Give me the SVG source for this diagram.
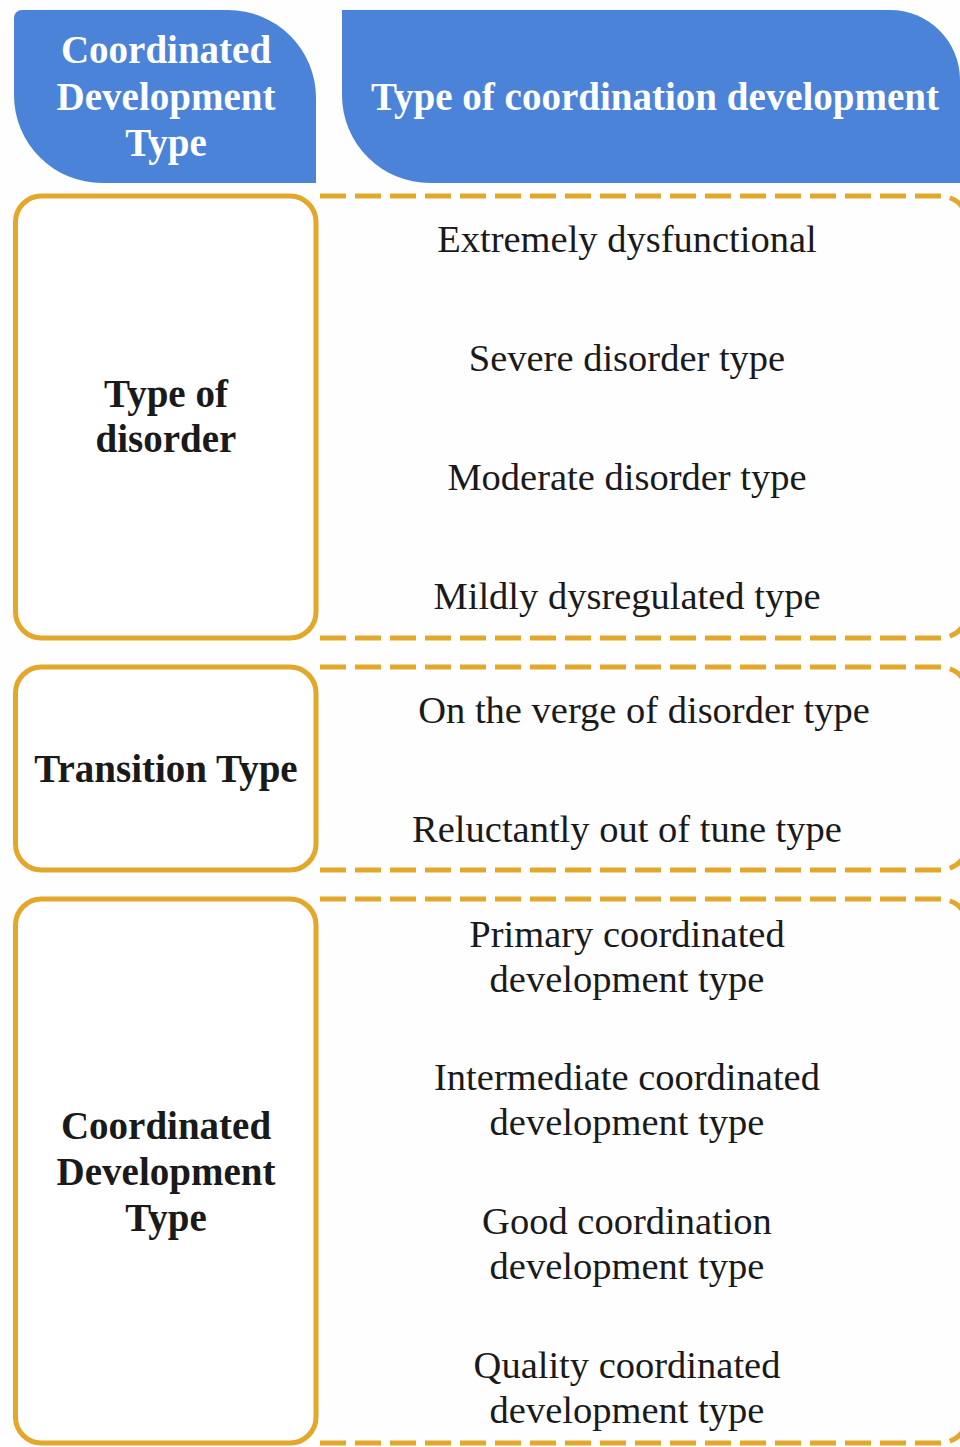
<svg xmlns="http://www.w3.org/2000/svg" width="960" height="1447" viewBox="0 0 960 1447">
<style>
.hdr{fill:#4B83D9}
.solid{fill:#FFFFFF;stroke:#E3A82B;stroke-width:5}
.dash{fill:none;stroke:#E3A82B;stroke-width:5;stroke-dasharray:26 9}
.ht{font-family:"Liberation Serif","Times New Roman",serif;font-weight:bold;font-size:39px;fill:#FFFFFF;text-anchor:middle}
.lb{font-family:"Liberation Serif","Times New Roman",serif;font-weight:bold;font-size:39px;fill:#1A1A1A;text-anchor:middle}
.it{font-family:"Liberation Serif","Times New Roman",serif;font-size:38.5px;fill:#1A1A1A;text-anchor:middle}
</style>
<rect width="960" height="1447" fill="#FEFEFE"/>
<g id="header-left">
<path class="hdr" d="M22,10 H228 A88,88 0 0 1 316,98 V183 H102 A88,88 0 0 1 14,95 V18 A8,8 0 0 1 22,10 Z"/>
<text class="ht" x="166" y="63">Coordinated</text>
<text class="ht" x="166" y="110">Development</text>
<text class="ht" x="166" y="156">Type</text>
</g>
<g id="header-right">
<path class="hdr" d="M342,10 H890 A70,70 0 0 1 960,80 V183 H430 A88,88 0 0 1 342,95 Z"/>
<text class="ht" x="655" y="110">Type of coordination development</text>
</g>
<g id="connectors">
<path class="dash" d="M320,196 H940 A28,28 0 0 1 968,224 V417"/>
<path class="dash" d="M320,638 H940 A28,28 0 0 0 968,610 V417"/>
<path class="dash" d="M320,667 H940 A28,28 0 0 1 968,695 V769"/>
<path class="dash" d="M320,870 H940 A28,28 0 0 0 968,842 V769"/>
<path class="dash" d="M320,899 H940 A28,28 0 0 1 968,927 V1171"/>
<path class="dash" d="M320,1443 H940 A28,28 0 0 0 968,1415 V1171"/>
</g>
<g id="disorder">
<rect class="solid" x="15.5" y="196" width="300.5" height="442" rx="26"/>
<text class="lb" x="166" y="407">Type of</text>
<text class="lb" x="166" y="452">disorder</text>
<text class="it" x="627" y="252">Extremely dysfunctional</text>
<text class="it" x="627" y="371">Severe disorder type</text>
<text class="it" x="627" y="490">Moderate disorder type</text>
<text class="it" x="627" y="609">Mildly dysregulated type</text>
</g>
<g id="transition">
<rect class="solid" x="15.5" y="667" width="300.5" height="203" rx="26"/>
<text class="lb" x="166" y="782">Transition Type</text>
<text class="it" x="644" y="723">On the verge of disorder type</text>
<text class="it" x="627" y="842">Reluctantly out of tune type</text>
</g>
<g id="coordinated">
<rect class="solid" x="15.5" y="899" width="300.5" height="544" rx="26"/>
<text class="lb" x="166" y="1139">Coordinated</text>
<text class="lb" x="166" y="1185">Development</text>
<text class="lb" x="166" y="1231">Type</text>
<text class="it" x="627" y="947">Primary coordinated</text>
<text class="it" x="627" y="992">development type</text>
<text class="it" x="627" y="1090">Intermediate coordinated</text>
<text class="it" x="627" y="1135">development type</text>
<text class="it" x="627" y="1234">Good coordination</text>
<text class="it" x="627" y="1279">development type</text>
<text class="it" x="627" y="1378">Quality coordinated</text>
<text class="it" x="627" y="1423">development type</text>
</g>
</svg>
